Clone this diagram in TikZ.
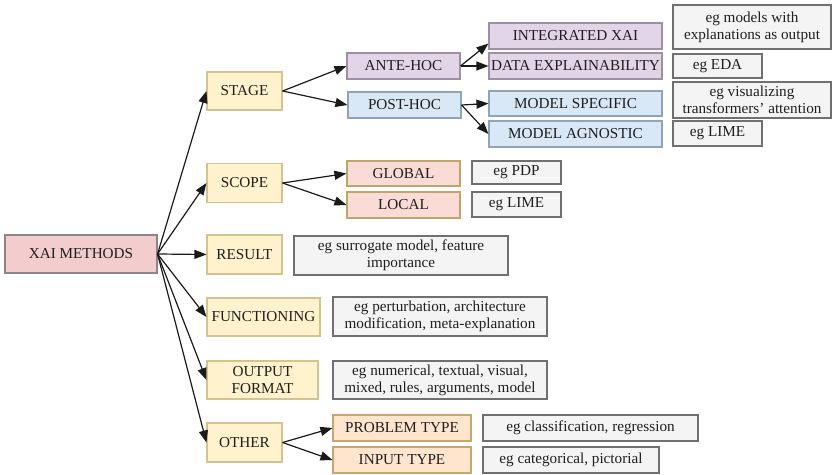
\documentclass[tikz,border=0pt]{standalone}
\usepackage{fontspec}
\setmainfont{Liberation Serif}
\usetikzlibrary{arrows.meta}

\definecolor{rootfill}{HTML}{F3CDCD}
\definecolor{rootdraw}{HTML}{8F8585}
\definecolor{yelfill}{HTML}{FFF2CC}
\definecolor{yeldraw}{HTML}{D3C48F}
\definecolor{purfill}{HTML}{E2D5E8}
\definecolor{purdraw}{HTML}{9E8FA8}
\definecolor{blufill}{HTML}{D9E8F7}
\definecolor{bludraw}{HTML}{90A4B8}
\definecolor{redfill}{HTML}{FADBD6}
\definecolor{reddraw}{HTML}{BBA66B}
\definecolor{orafill}{HTML}{FFE4CE}
\definecolor{oradraw}{HTML}{C8A66E}
\definecolor{exfill}{HTML}{F4F4F4}
\definecolor{exdraw}{HTML}{707070}
\definecolor{arrowcol}{HTML}{1A1A1A}

\tikzset{
  box/.style={draw, line width=1.1pt, inner sep=0pt, align=center,
    font=\fontsize{15.2}{17}\selectfont, text=black!88},
  rootbox/.style={box, fill=rootfill, draw=rootdraw},
  catbox/.style={box, fill=yelfill, draw=yeldraw},
  antebox/.style={box, fill=purfill, draw=purdraw},
  postbox/.style={box, fill=blufill, draw=bludraw},
  scopebox/.style={box, fill=redfill, draw=reddraw},
  otherbox/.style={box, fill=orafill, draw=oradraw},
  exbox/.style={box, fill=exfill, draw=exdraw},
  link/.style={draw=arrowcol, line width=1.2pt,
    -{Triangle[length=12pt,width=9pt]}},
}

\begin{document}
\begin{tikzpicture}[x=1pt,y=-1pt]
\useasboundingbox (0,0) rectangle (832,474);

% root
\node[rootbox, minimum width=152pt, minimum height=38pt] (xai) at (81,254) {XAI METHODS};

% first level categories
\node[catbox, minimum width=75pt, minimum height=38pt] (stage) at (244.5,91) {STAGE};
\node[catbox, minimum width=75pt, minimum height=39pt] (scope) at (244.5,183) {SCOPE};
\node[catbox, minimum width=75pt, minimum height=39pt] (result) at (244.5,254.5) {RESULT};
\node[catbox, minimum width=113pt, minimum height=38pt] (func) at (263.5,317) {FUNCTIONING};
\node[catbox, minimum width=111pt, minimum height=38pt] (outfmt) at (262.5,380) {OUTPUT\\FORMAT};
\node[catbox, minimum width=75pt, minimum height=39pt] (other) at (244.5,442.5) {OTHER};

% stage branch
\node[antebox, minimum width=113pt, minimum height=26pt] (ante) at (403.5,66) {ANTE-HOC};
\node[postbox, minimum width=113pt, minimum height=26pt] (post) at (404.5,105) {POST-HOC};
\node[antebox, minimum width=173pt, minimum height=26pt] (integ) at (575.5,36) {INTEGRATED XAI};
\node[antebox, minimum width=173pt, minimum height=26pt] (dataexp) at (575.5,66) {DATA EXPLAINABILITY};
\node[postbox, minimum width=173pt, minimum height=25pt] (mspec) at (575.5,103.5) {MODEL SPECIFIC};
\node[postbox, minimum width=173pt, minimum height=26pt] (magn) at (575.5,134) {MODEL AGNOSTIC};
\node[exbox, minimum width=158pt, minimum height=44pt] (exinteg) at (752,27) {eg models with\\explanations as output};
\node[exbox, minimum width=89pt, minimum height=24pt] (exeda) at (717.5,66) {eg EDA};
\node[exbox, minimum width=158pt, minimum height=36pt] (exvis) at (752,100) {eg visualizing\\transformers’ attention};
\node[exbox, minimum width=89pt, minimum height=25pt] (exlimea) at (717.5,133.5) {eg LIME};

% scope branch
\node[scopebox, minimum width=113pt, minimum height=25pt] (global) at (403.5,173.5) {GLOBAL};
\node[scopebox, minimum width=113pt, minimum height=26pt] (local) at (403.5,205) {LOCAL};
\node[exbox, minimum width=89pt, minimum height=23pt] (expdp) at (516.5,172.5) {eg PDP};
\node[exbox, minimum width=89pt, minimum height=25pt] (exlimeb) at (516.5,204.5) {eg LIME};

% result, functioning, output format examples
\node[exbox, minimum width=214pt, minimum height=39pt] (exresult) at (401,255.5) {eg surrogate model, feature\\importance};
\node[exbox, minimum width=214pt, minimum height=39pt] (exfunc) at (440,316.5) {eg perturbation, architecture\\modification, meta-explanation};
\node[exbox, minimum width=214pt, minimum height=38pt] (exout) at (440,380) {eg numerical, textual, visual,\\mixed, rules, arguments, model};

% other branch
\node[otherbox, minimum width=138pt, minimum height=26pt] (problem) at (402,428) {PROBLEM TYPE};
\node[otherbox, minimum width=138pt, minimum height=26pt] (input) at (402,460) {INPUT TYPE};
\node[exbox, minimum width=215pt, minimum height=26pt] (exprob) at (590.5,428) {eg classification, regression};
\node[exbox, minimum width=176pt, minimum height=26pt] (exinput) at (571,460) {eg categorical, pictorial};

% connectors
\foreach \t in {stage,scope,result,func,outfmt,other}
  \draw[link] (xai.east) -- (\t.west);
\draw[link] (stage.east) -- (ante.west);
\draw[link] (stage.east) -- (post.west);
\draw[link] (ante.east) -- ([yshift=6pt]integ.south west);
\draw[link] (ante.east) -- (dataexp.west);
\draw[link] (post.east) -- (mspec.west);
\draw[link] (post.east) -- (magn.west);
\draw[link] (scope.east) -- (global.west);
\draw[link] (scope.east) -- (local.west);
\draw[link] (other.east) -- (problem.west);
\draw[link] (other.east) -- (input.west);
\end{tikzpicture}
\end{document}
